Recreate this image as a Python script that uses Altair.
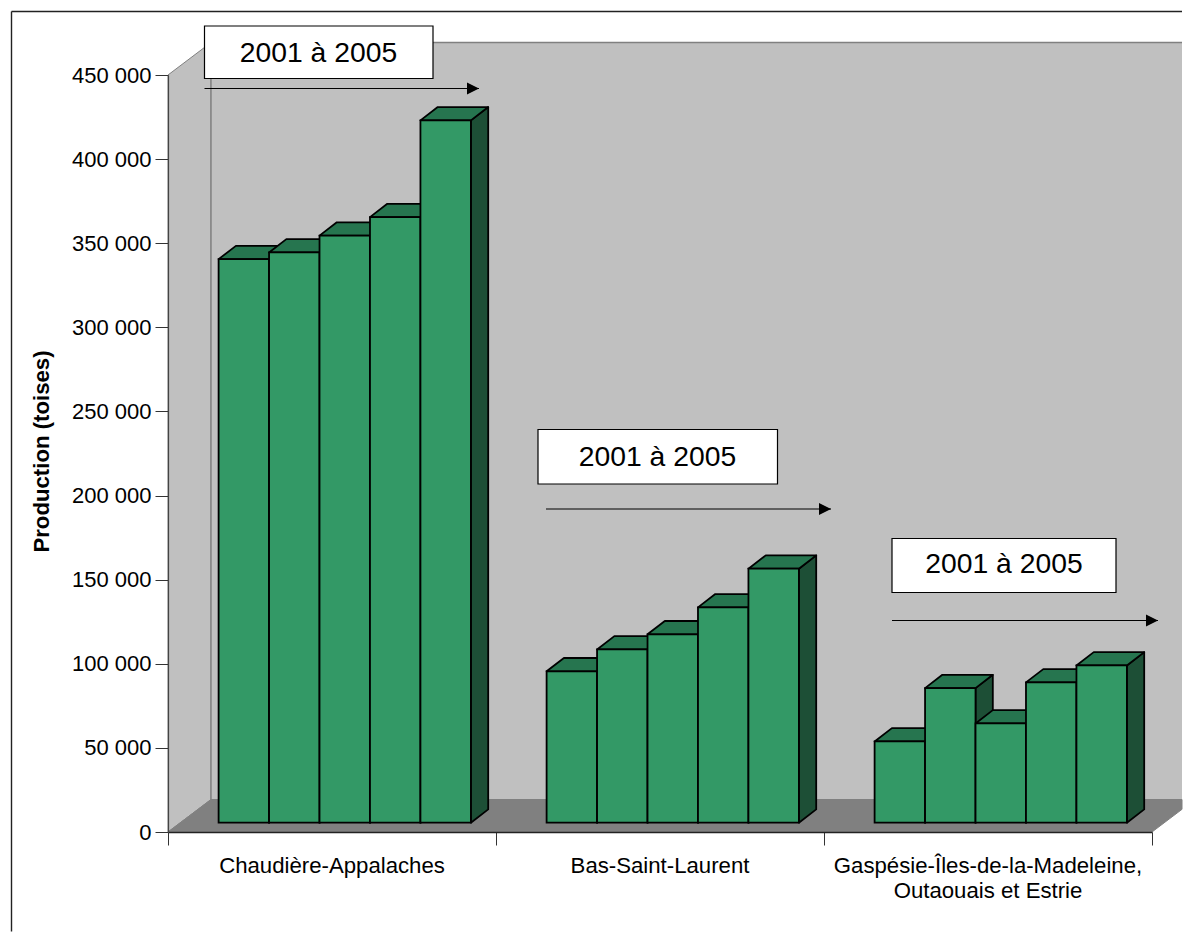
import altair as alt
import pandas as pd

categories = ["Chaudière-Appalaches", "Bas-Saint-Laurent", "Gaspésie-Îles-de-la-Madeleine,|Outaouais et Estrie"]
years = [2001, 2002, 2003, 2004, 2005]
chaudiere = [335000, 339000, 349000, 360000, 417500]
bas_saint_laurent = [90000, 103000, 112000, 128000, 151000]
gaspesie = [48300, 80000, 59000, 83400, 93500]
series = [chaudiere, bas_saint_laurent, gaspesie]
annotation = "2001 à 2005"
y_title = "Production (toises)"
y_ticks = [0, 50000, 100000, 150000, 200000, 250000, 300000, 350000, 400000, 450000]

PW, PH = 984, 757
YMAX = 450000
def X(px):  # pixels from the plot's left -> x units
    return px / (PW / 3)
def Y(px):  # pixels above the baseline -> y units
    return px / PH * YMAX

BAR = X(50.46)
WALL_DX, WALL_DY = X(43), Y(32.5)
OFF_DX, OFF_DY = X(50.6), Y(9.3)
D_DX, D_DY = X(17.3), Y(13.3)
RIGHT_EDGE = X(1182 - 168)
GREEN, TOP, SIDE = "#339966", "#26754F", "#1D4F36"

x_s = alt.Scale(domain=[0, 3], nice=False, zero=False)
y_s = alt.Scale(domain=[0, YMAX], nice=False, zero=False)
xq = lambda f="x": alt.X(f"{f}:Q", scale=x_s, title=None, stack=None)
yq = lambda f="y": alt.Y(f"{f}:Q", scale=y_s, title=None, stack=None)

fronts, tops, sides = [], [], []
for c, vals in enumerate(series):
    for b, v in enumerate(vals):
        x0 = c + OFF_DX + b * BAR
        x1 = x0 + BAR
        y0 = OFF_DY
        yt = OFF_DY + v
        i = f"{c}-{b}"
        fronts.append(dict(x=x0, x2=x1, y=y0, y2=yt))
        tops += [dict(i=i, y=yt, x=x0, x2=x1), dict(i=i, y=yt + D_DY, x=x0 + D_DX, x2=x1 + D_DX)]
        sides += [dict(i=i, x=x1, y=y0, y2=yt), dict(i=i, x=x1 + D_DX, y=y0 + D_DY, y2=yt + D_DY)]

left_wall = alt.Chart(pd.DataFrame([
    dict(x=0, y=0, y2=YMAX), dict(x=WALL_DX, y=WALL_DY, y2=YMAX + WALL_DY)
])).mark_area(fill="#C0C0C0", stroke="#808080", strokeWidth=1).encode(
    x=xq(), y=yq(), y2=alt.Y2("y2:Q"))
back_wall = alt.Chart(pd.DataFrame([
    dict(x=WALL_DX, x2=RIGHT_EDGE, y=WALL_DY, y2=YMAX + WALL_DY)
])).mark_rect(fill="#C0C0C0").encode(
    x=xq(), x2=alt.X2("x2:Q"), y=yq(), y2=alt.Y2("y2:Q"))
wall_edges = alt.Chart(pd.DataFrame([
    dict(x=WALL_DX, x2=RIGHT_EDGE, y=YMAX + WALL_DY, y2=YMAX + WALL_DY),
    dict(x=WALL_DX, x2=WALL_DX, y=WALL_DY, y2=YMAX + WALL_DY),
])).mark_rule(color="#808080", strokeWidth=1.4).encode(
    x=xq(), x2=alt.X2("x2:Q"), y=yq(), y2=alt.Y2("y2:Q"))
floor = alt.Chart(pd.DataFrame([
    dict(x=0, y=0, y2=0),
    dict(x=WALL_DX, y=0, y2=WALL_DY),
    dict(x=3, y=0, y2=WALL_DY),
    dict(x=RIGHT_EDGE, y=WALL_DY * (RIGHT_EDGE - 3) / WALL_DX, y2=WALL_DY),
])).mark_area(fill="#808080", stroke="#808080", strokeWidth=1).encode(
    x=xq(), y=yq(), y2=alt.Y2("y2:Q"))

side_l = alt.Chart(pd.DataFrame(sides)).mark_area(fill=SIDE, stroke="black", strokeWidth=1.8, strokeJoin="round").encode(
    x=xq(), y=yq(), y2=alt.Y2("y2:Q"), detail="i:N")
top_l = alt.Chart(pd.DataFrame(tops)).mark_area(orient="horizontal", fill=TOP, stroke="black", strokeWidth=1.8, strokeJoin="round").encode(
    y=yq(), x=xq(), x2=alt.X2("x2:Q"), detail="i:N")
front_l = alt.Chart(pd.DataFrame(fronts)).mark_rect(fill=GREEN, stroke="black", strokeWidth=1.8).encode(
    x=xq(), x2=alt.X2("x2:Q"), y=yq(), y2=alt.Y2("y2:Q"))

# annotation boxes and arrows, in axis units
def px_x(p): return X(p - 168)
def px_y(p): return Y(832.5 - p)
boxes = pd.DataFrame([
    dict(x=px_x(204.5), x2=px_x(433), y=px_y(79), y2=px_y(26.5)),
    dict(x=px_x(538), x2=px_x(777.5), y=px_y(484.5), y2=px_y(430)),
    dict(x=px_x(892), x2=px_x(1116), y=px_y(593), y2=px_y(539)),
])
box_l = alt.Chart(boxes).mark_rect(fill="white", stroke="black", strokeWidth=1.2).encode(
    x=xq(), x2=alt.X2("x2:Q"), y=yq(), y2=alt.Y2("y2:Q"))
box_t = alt.Chart(pd.DataFrame([
    dict(x=px_x(318.5), y=px_y(54), t=annotation),
    dict(x=px_x(657.5), y=px_y(458), t=annotation),
    dict(x=px_x(1004), y=px_y(565.5), t=annotation),
])).mark_text(font="Liberation Sans", fontSize=28.3, color="black", baseline="middle", align="center").encode(
    x=xq(), y=yq(), text="t:N")
arrows = pd.DataFrame([
    dict(x=px_x(204.5), x2=px_x(479), y=px_y(89)),
    dict(x=px_x(546), x2=px_x(831), y=px_y(509.5)),
    dict(x=px_x(892), x2=px_x(1158), y=px_y(621)),
])
arrow_r = alt.Chart(arrows).mark_rule(color="black", strokeWidth=1.2).encode(
    x=xq(), x2=alt.X2("x2:Q"), y=yq())
heads = arrows.assign(x=arrows.x2 - X(6))
arrow_h = alt.Chart(heads).mark_point(shape="M-1,-1L1,0L-1,1Z", filled=True, fill="black", stroke=None, size=144, opacity=1).encode(
    x=xq(), y=yq())

# category labels
rows = []
for c, name in enumerate(categories):
    for ln, part in enumerate(name.split("|")):
        rows.append(dict(x=c + 0.5, px=px_y(866 + ln * 25), t=part))
cat_l = alt.Chart(pd.DataFrame(rows)).mark_text(font="Liberation Sans", fontSize=22.2, color="black", baseline="middle", align="center").encode(
    x=xq(), y=yq("px"), text="t:N")
title_l = alt.Chart(pd.DataFrame([dict(x=px_x(42), y=px_y(452), t=y_title)])).mark_text(
    font="Liberation Sans", fontSize=22.2, fontWeight="bold", color="black", angle=270,
    baseline="middle", align="center").encode(x=xq(), y=yq(), text="t:N")

# axes (drawn on top of the walls)
axes = alt.Chart(pd.DataFrame([dict(x=0, y=0)])).mark_point(opacity=0).encode(
    x=alt.X("x:Q", scale=x_s, axis=alt.Axis(
        values=[0, 1, 2, 3], labels=False, title=None, grid=False, ticks=True, tickSize=13,
        tickColor="#333333", domainColor="#222222", domainWidth=1.6, zindex=1)),
    y=alt.Y("y:Q", scale=y_s, axis=alt.Axis(
        values=y_ticks, title=None, grid=False, tickSize=13, tickColor="#333333",
        domainColor="#444444", domainWidth=1.2, zindex=1,
        labelFont="Liberation Sans", labelFontSize=22, labelColor="black", labelPadding=4,
        labelExpr="replace(format(datum.value, ','), ',', ' ')")),
)

# outer frame: only its top and left edges fall inside the picture
frame_top = alt.Chart(pd.DataFrame([dict(x=px_x(11.5), x2=RIGHT_EDGE, y=px_y(12))])).mark_rule(color="#222222", strokeWidth=1.4).encode(
    x=xq(), x2=alt.X2("x2:Q"), y=yq())
frame_left = alt.Chart(pd.DataFrame([dict(x=px_x(11.5), y=px_y(12), y2=px_y(932))])).mark_rule(color="#222222", strokeWidth=1.4).encode(
    x=xq(), y=yq(), y2=alt.Y2("y2:Q"))

chart = alt.layer(
    left_wall, back_wall, floor, wall_edges, side_l, top_l, front_l, box_l, box_t,
    arrow_r, arrow_h, cat_l, title_l, frame_top, frame_left, axes
).properties(
    width=PW, height=PH, background="white",
    padding={"left": 2, "top": 2, "right": 0, "bottom": 0},
).configure_view(stroke=None)

chart.save("out.html", embed_options={"renderer": "svg", "actions": False})
